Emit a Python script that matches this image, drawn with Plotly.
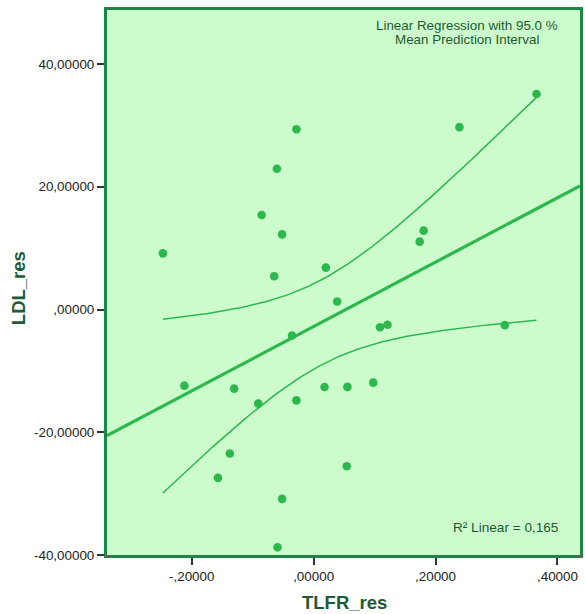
import numpy as np
import plotly.graph_objects as go

# Data
tlfr_res = [-0.2473, -0.2120, -0.1570, -0.1375, -0.1304, -0.0908, -0.0853, -0.0647,
            -0.0603, -0.0592, -0.0517, -0.0517, -0.0354, -0.0282, -0.0282, 0.0179,
            0.0201, 0.0386, 0.0543, 0.0554, 0.0978, 0.1088, 0.1211, 0.1740,
            0.1805, 0.2392, 0.3136, 0.3657]
ldl_res = [9.15, -12.41, -27.43, -23.46, -12.89, -15.33, 15.40, 5.41,
           22.93, -38.75, 12.24, -30.85, -4.23, 29.38, -14.80, -12.63,
           6.83, 1.30, -25.53, -12.61, -11.92, -2.88, -2.49, 11.06,
           12.85, 29.71, -2.55, 35.12]

x_tickvals = [-0.2, 0.0, 0.2, 0.4]
x_ticktext = ["-,20000", ",00000", ",20000", ",40000"]
y_tickvals = [-40, -20, 0, 20, 40]
y_ticktext = ["-40,00000", "-20,00000", ",00000", "20,00000", "40,00000"]

x_range = [-0.339, 0.437]
y_range = [-40, 48.8]

x = np.array(tlfr_res)
y = np.array(ldl_res)
n = len(x)
slope, intercept = np.polyfit(x, y, 1)
yhat = intercept + slope * x
s = np.sqrt(np.sum((y - yhat) ** 2) / (n - 2))
xbar = x.mean()
sxx = np.sum((x - xbar) ** 2)
t_crit = 2.0555  # t(0.975, df=26)

xl = np.array(x_range)
yl = intercept + slope * xl
xc = np.linspace(x.min(), x.max(), 200)
yc = intercept + slope * xc
half = t_crit * s * np.sqrt(1.0 / n + (xc - xbar) ** 2 / sxx)

GREEN = "#2DB84D"
BORDER = "#1B8745"
TXT = "#1E5A33"
FONT = "Liberation Sans, Arial"

fig = go.Figure()
fig.add_trace(go.Scatter(x=xl, y=yl, mode="lines", line=dict(color=GREEN, width=3.2), hoverinfo="skip"))
fig.add_trace(go.Scatter(x=xc, y=yc + half, mode="lines", line=dict(color=GREEN, width=1.5), hoverinfo="skip"))
fig.add_trace(go.Scatter(x=xc, y=yc - half, mode="lines", line=dict(color=GREEN, width=1.5), hoverinfo="skip"))
fig.add_trace(go.Scatter(x=x, y=y, mode="markers",
                         marker=dict(color=GREEN, size=8.6, line=dict(width=0))))

axis_common = dict(showgrid=False, zeroline=False, showline=True, mirror=True,
                   linecolor=BORDER, linewidth=3, ticks="outside", ticklen=7,
                   tickwidth=1.5, tickcolor="#333333",
                   tickfont=dict(family=FONT, size=13.4, color="#222222"))

fig.update_xaxes(range=x_range, tickvals=x_tickvals, ticktext=x_ticktext, **axis_common)
fig.update_yaxes(range=y_range, tickvals=y_tickvals, ticktext=y_ticktext, **axis_common)

W, H = 585, 614
L, R, T, B = 107, 1.5, 9.5, 58.5
pw, ph = W - L - R, H - T - B


def px(xp):
    return (xp - L) / pw


def py(yp):
    return (H - B - yp) / ph


fig.update_layout(
    width=W, height=H,
    margin=dict(l=L, r=R, t=T, b=B),
    plot_bgcolor="#CCFCCB",
    paper_bgcolor="white",
    showlegend=False,
    annotations=[
        dict(text="Linear Regression with 95.0 %",
             xref="paper", yref="paper", x=px(470), y=py(25), xanchor="center", yanchor="middle",
             showarrow=False, font=dict(family=FONT, size=13.4, color=TXT)),
        dict(text="Mean Prediction Interval",
             xref="paper", yref="paper", x=px(470), y=py(39.5), xanchor="center", yanchor="middle",
             showarrow=False, font=dict(family=FONT, size=13.4, color=TXT)),
        dict(text="R² Linear = 0,165", xref="paper", yref="paper", showarrow=False,
             x=px(563), y=py(528), xanchor="right", yanchor="middle",
             font=dict(family=FONT, size=13.6, color=TXT)),
        dict(text="<b>TLFR_res</b>", xref="paper", yref="paper", showarrow=False,
             x=px(346), y=py(603), xanchor="center", yanchor="middle",
             font=dict(family=FONT, size=18.5, color=TXT)),
        dict(text="<b>LDL_res</b>", xref="paper", yref="paper", showarrow=False, textangle=-90,
             x=px(18.5), y=py(288), xanchor="center", yanchor="middle",
             font=dict(family=FONT, size=18.5, color=TXT)),
    ],
)

fig.write_html("out.html", config={"displayModeBar": False},
               post_script="document.body.style.margin='0';")
